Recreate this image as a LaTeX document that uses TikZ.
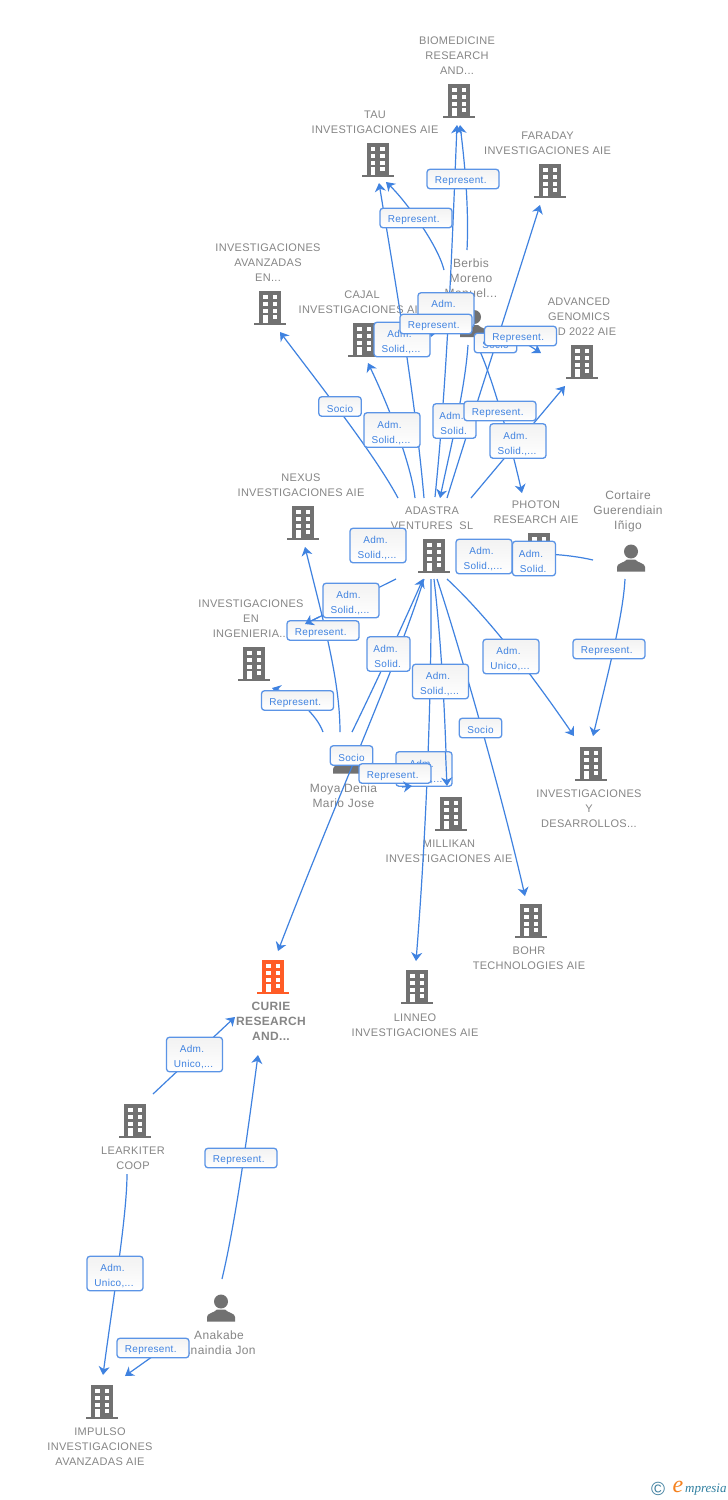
\documentclass[tikz,border=0pt]{standalone}
\usepackage{fontspec}
\usetikzlibrary{arrows.meta}
\newfontfamily\lblfont[LetterSpace=2.7]{Liberation Sans}
\newfontfamily\lblbold[LetterSpace=2.7]{Liberation Sans Bold}
\newfontfamily\perfont[LetterSpace=3.3]{Liberation Sans}
\newfontfamily\boxfont[LetterSpace=3]{Liberation Sans}
\newfontfamily\serifit{Liberation Serif Italic}
\definecolor{icongray}{HTML}{717171}
\definecolor{textgray}{HTML}{868686}
\definecolor{linkblue}{HTML}{3F82E0}
\definecolor{boxedge}{HTML}{5B94E6}
\definecolor{boxtext}{HTML}{3F82E0}
\definecolor{curieorange}{HTML}{FF5C26}
\definecolor{logoblue}{HTML}{3F7F9F}
\definecolor{logoteal}{HTML}{2F7FA0}
\definecolor{logoorange}{HTML}{F58220}
\newcommand\trail[1]{\hspace*{#1pt}}
\newcommand\hitop{\rule{0pt}{13pt}}
\newcommand\admS{\hitop Adm.\trail{5}\\Solid.,...\trail{2}}
\newcommand\admN{\hitop Adm.\trail{6}\\Solid.\trail{1.5}}
\newcommand\admU{\hitop Adm.\trail{5}\\Unico,...\trail{2}}
\newcommand\repT{Represent.\trail{4.5}}
\tikzset{
  iconspot/.style={inner sep=0pt,minimum size=1pt,draw=none},
  bldg/.pic={
    \fill[pic actions] (-11,-17) rectangle (11,15);
    \fill[pic actions] (-16,15) rectangle (16,17);
    \foreach \yy in {-12.6,-6,0.7}{
      \fill[white] (-6.8,\yy) rectangle +(4.5,3.9);
      \fill[white] (2.5,\yy) rectangle +(4.5,3.9);
    }
    \fill[white] (2.5,7.4) rectangle +(4.5,3.9);
    \fill[white] (-6.8,7.4) rectangle +(4.5,7.6);
  },
  pers/.pic={
    \fill[pic actions] (0,-6.5) ellipse [x radius=7,y radius=7];
    \fill[pic actions] (-14,13.5) -- (-14,9) .. controls (-14,5) and (-7,5) .. (-4,1.5)
       -- (4,1.5) .. controls (7,5) and (14,5) .. (14,9) -- (14,13.5) -- cycle;
  },
  orglabel/.style={inner sep=0pt,yshift=-1pt,align=center,text=textgray,font=\lblfont\fontsize{11}{15}\selectfont},
  boldlabel/.style={inner sep=0pt,yshift=-0.5pt,align=center,text=textgray,font=\lblbold\fontsize{12}{15}\selectfont},
  perlabel/.style={inner sep=0pt,yshift=-1pt,align=center,text=textgray,font=\perfont\fontsize{12}{15}\selectfont},
  link/.style={draw=linkblue,line width=1.2pt,-{Stealth[length=8.5pt,width=11pt,inset=2.6pt]}},
  relbox/.style={draw=boxedge,line width=1.3pt,rounded corners=3pt,top color=black!5,bottom color=white,
     inner sep=0pt,align=center,text=boxtext,font=\boxfont\fontsize{10}{15}\selectfont},
  repbox/.style={relbox,minimum width=72pt,minimum height=19.5pt,execute at begin node={\rule{0pt}{11.2pt}}},
  sociobox/.style={relbox,minimum width=42.5pt,minimum height=19.5pt,execute at begin node={\rule{0pt}{11.2pt}}},
  wideadm/.style={relbox,minimum width=56pt,minimum height=34.5pt},
  narrowadm/.style={relbox,minimum width=43pt,minimum height=34.5pt},
}
\begin{document}
\begin{tikzpicture}[x=1pt,y=-1pt]
\useasboundingbox (0,0) rectangle (728,1500);
\fill[white] (0,0) rectangle (728,1500);
% --- entity icons
\foreach \nm/\px/\py in {biomed/459/101,tau/377.5/160,faraday/550/181,avan/270/308,cajal/364/340,advanced/582/362,nexus/303/523,adastra/434/556,photon/539/550,ing/254/664,invdes/591/764,millikan/451/814,bohr/531/921,linneo/417/987,learkiter/135/1121,impulso/102/1402}{
  \node[iconspot] (\nm) at (\px,\py) {};
  \pic[fill=icongray] at (\nm) {bldg};
}
\node[iconspot] (curie) at (273,977) {};
\pic[fill=curieorange] at (curie) {bldg};
\foreach \nm/\px/\py in {berbis/474/323.5,cortaire/631/558,moya/347/760,anakabe/221/1308}{
  \node[iconspot] (\nm) at (\px,\py) {};
  \pic[fill=icongray] at (\nm) {pers};
}
% --- entity labels
\node[orglabel] (lbiomed) at (457,55) {BIOMEDICINE\\RESEARCH\\AND...};
\node[orglabel] (ltau) at (375,121.5) {TAU\\INVESTIGACIONES AIE};
\node[orglabel] (lfaraday) at (547.5,142.5) {FARADAY\\INVESTIGACIONES AIE};
\node[orglabel] (lavan) at (268,262) {INVESTIGACIONES\\AVANZADAS\\EN...};
\node[orglabel] (lcajal) at (362,301.5) {CAJAL\\INVESTIGACIONES AIE};
\node[orglabel] (ladvanced) at (579,316) {ADVANCED\\GENOMICS\\R\&D 2022 AIE};
\node[perlabel] (lberbis) at (471,277.5) {Berbis\\Moreno\\Manuel...};
\node[orglabel] (lnexus) at (301,484.5) {NEXUS\\INVESTIGACIONES AIE};
\node[orglabel] (ladastra) at (432,517.5) {ADASTRA\\VENTURES\ \ SL};
\node[orglabel] (lphoton) at (536,511.5) {PHOTON\\RESEARCH AIE};
\node[perlabel] (lcortaire) at (628,510) {Cortaire\\Guerendiain\\Iñigo};
\node[orglabel] (ling) at (251,618) {INVESTIGACIONES\\EN\\INGENIERIA...};
\node[perlabel] (lmoya) at (343.5,795) {Moya Denia\\Mario Jose};
\node[orglabel] (linvdes) at (589,808) {INVESTIGACIONES\\Y\\DESARROLLOS...};
\node[orglabel] (lmillikan) at (449,850.5) {MILLIKAN\\INVESTIGACIONES AIE};
\node[orglabel] (lbohr) at (529,957.5) {BOHR\\TECHNOLOGIES AIE};
\node[orglabel] (llinneo) at (415,1024.5) {LINNEO\\INVESTIGACIONES AIE};
\node[boldlabel] (lcurie) at (271,1021) {CURIE\\RESEARCH\\AND...};
\node[orglabel] (llearkiter) at (133,1157.5) {LEARKITER\\COOP};
\node[perlabel] (lanakabe) at (219,1342) {Anakabe\\Anaindia Jon};
\node[orglabel] (limpulso) at (100,1446) {IMPULSO\\INVESTIGACIONES\\AVANZADAS AIE};
% --- connectors
\draw[link] ([shift={(1,-59)}]adastra.center) .. controls (447,380) and (452,250) .. ([shift={(-2,24)}]biomed.center);
\draw[link] ([shift={(-7,-73.5)}]berbis.center) .. controls (469,210) and (465,165) .. ([shift={(1,24)}]biomed.center);
\draw[link] ([shift={(-30,-53.5)}]berbis.center) .. controls (438,245) and (405,200) .. ([shift={(8.5,22)}]tau.center);
\draw[link] ([shift={(-10,-58)}]adastra.center) .. controls (415,395) and (395,280) .. ([shift={(1.5,23)}]tau.center);
\draw[link] ([shift={(13,-58)}]adastra.center) .. controls (465,440) and (510,300) .. ([shift={(-10,24)}]faraday.center);
\draw[link] ([shift={(-36,-58)}]adastra.center) .. controls (375,455) and (320,385) .. ([shift={(10,24)}]avan.center);
\draw[link] ([shift={(-19,-58)}]adastra.center) .. controls (412,470) and (393,415) .. ([shift={(4,23)}]cajal.center);
\draw[link] ([shift={(-6,21.5)}]berbis.center) .. controls (465,390) and (450,450) .. ([shift={(6,-58)}]adastra.center);
\draw[link] ([shift={(37,-58)}]adastra.center) -- ([shift={(-17,24)}]advanced.center);
\draw[link] ([shift={(3,21.5)}]berbis.center) .. controls (490,370) and (510,440) .. ([shift={(-17,-57)}]photon.center);
\draw[link] ([shift={(32,7.5)}]berbis.center) -- ([shift={(-41,-9)}]advanced.center);
\draw[link] ([shift={(-38,23)}]adastra.center) -- ([shift={(51,-40)}]ing.center);
\draw[link] ([shift={(-7,-28)}]moya.center) .. controls (340,680) and (323,620) .. ([shift={(2,24)}]nexus.center);
\draw[link] ([shift={(-24,-28)}]moya.center) .. controls (317,715) and (295,695) .. ([shift={(18,24)}]ing.center);
\draw[link] ([shift={(5,-28)}]moya.center) .. controls (375,685) and (405,620) .. ([shift={(-11,23)}]adastra.center);
\draw[link] ([shift={(-10,23)}]adastra.center) .. controls (395,670) and (340,790) .. ([shift={(5,-26)}]curie.center);
\draw[link] ([shift={(-3,23)}]adastra.center) .. controls (432,700) and (425,850) .. ([shift={(-1,-26)}]linneo.center);
\draw[link] ([shift={(0,23)}]adastra.center) .. controls (441,640) and (445,710) .. ([shift={(-4,-28)}]millikan.center);
\draw[link] ([shift={(3,23)}]adastra.center) .. controls (462,655) and (503,800) .. ([shift={(-6,-25)}]bohr.center);
\draw[link] ([shift={(13,23)}]adastra.center) .. controls (475,605) and (515,650) .. ([shift={(-17,-28)}]invdes.center);
\draw[link] ([shift={(-6,21)}]cortaire.center) .. controls (623,615) and (610,665) .. ([shift={(2,-28)}]invdes.center);
\draw[link] ([shift={(-38,2)}]cortaire.center) .. controls (580,557) and (565,555) .. ([shift={(6,4)}]photon.center);
\draw[link] ([shift={(18,-27)}]learkiter.center) -- ([shift={(-38,40)}]curie.center);
\draw[link] ([shift={(1,-29)}]anakabe.center) .. controls (236,1220) and (248,1130) .. ([shift={(-15,78)}]curie.center);
\draw[link] ([shift={(-8,53)}]learkiter.center) .. controls (127,1215) and (113,1300) .. ([shift={(1,-27)}]impulso.center);
\draw[link] ([shift={(-51,36)}]anakabe.center) -- ([shift={(23,-26)}]impulso.center);
% --- relation boxes
\node[narrowadm] (b1) at (454.5,421) {\admN};
\node[wideadm] (b2) at (392,430) {\admS};
\node[sociobox] (b3) at (340,406.5) {Socio};
\node[repbox] (b4) at (463,179) {\repT};
\node[repbox] (b5) at (416,218) {\repT};
\node[relbox,minimum width=56pt,minimum height=34.5pt,text depth=15pt,text height=9.5pt] (b6) at (446,310) {Adm.\trail{5}};
\node[wideadm] (b7) at (402,339.5) {\admS};
\draw[link] ([shift={(-38,-1.5)}]berbis.center) -- ([shift={(-43,13.5)}]berbis.center);
\node[repbox] (b8) at (436,324) {\repT};
\node[sociobox] (b9) at (495.5,343) {Socio};
\node[repbox] (b10) at (520.5,336) {\repT};
\node[repbox] (b11) at (500,411) {\repT};
\node[wideadm] (b12) at (518,441) {\admS};
\node[wideadm] (b13) at (378,545.5) {\admS};
\node[wideadm] (b14) at (351,600.5) {\admS};
\node[repbox] (b15) at (323,630.5) {\repT};
\node[narrowadm] (b16) at (388.5,654) {\admN};
\node[wideadm] (b17) at (440.5,681.5) {\admS};
\node[repbox] (b18) at (297.5,700.5) {\repT};
\node[sociobox] (b19) at (351.5,755.5) {Socio};
\node[wideadm] (b20) at (424,769) {\admS};
\node[repbox] (b21) at (395,773.5) {\repT};
\node[wideadm] (b22) at (484,556.5) {\admS};
\node[narrowadm] (b23) at (534,558.5) {\admN};
\node[wideadm] (b24) at (511,656.5) {\admU};
\node[repbox] (b25) at (609,649) {\repT};
\node[sociobox] (b26) at (480.5,728) {Socio};
\node[wideadm] (b27) at (194.5,1054.5) {\admU};
\node[repbox] (b28) at (241,1158) {\repT};
\node[wideadm] (b29) at (115,1273.5) {\admU};
\node[repbox] (b30) at (153,1348) {\repT};
% --- arrow ends that lie over the boxes
\draw[link] ([shift={(-132,-197)}]millikan.center) -- ([shift={(51,-40)}]ing.center);
\draw[link] ([shift={(-5.5,-62)}]millikan.center) -- ([shift={(-4,-28)}]millikan.center);
\draw[link] ([shift={(-49,-27)}]millikan.center) -- ([shift={(-39,-28)}]millikan.center);
% --- footer
\node[inner sep=0pt,text=logoblue,font=\fontspec{Liberation Sans}\fontsize{19}{19}\selectfont] (copyr) at (658,1489) {©};
\node[inner sep=0pt,text=logoorange,font=\serifit\fontsize{24}{24}\selectfont] (elogo) at (678,1487) {e};
\node[inner sep=0pt,anchor=west,text=logoteal,font=\serifit\fontsize{13}{14}\selectfont] (mplogo) at (685,1490) {mpresia};
\end{tikzpicture}
\end{document}
